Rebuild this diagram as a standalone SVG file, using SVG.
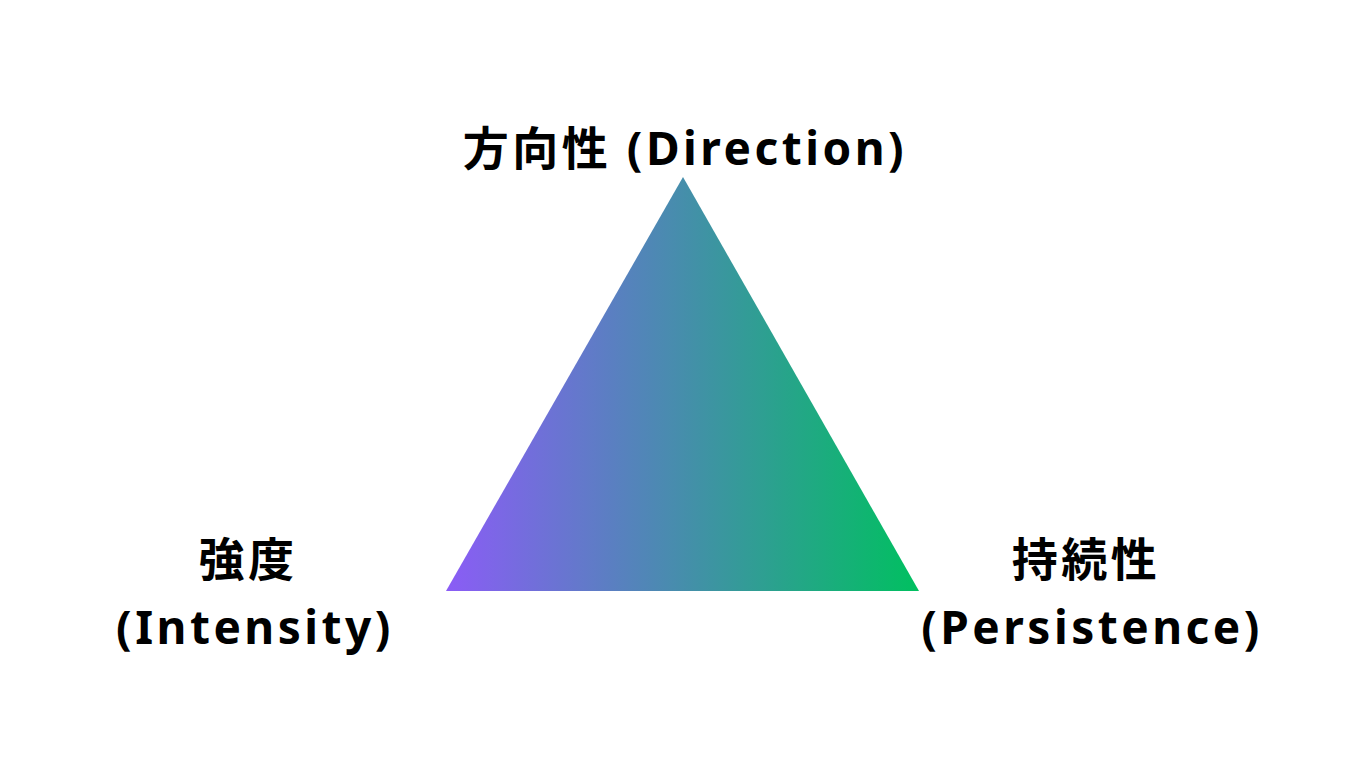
<svg xmlns="http://www.w3.org/2000/svg" width="1366" height="768" viewBox="0 0 1366 768">
<style>
.lbl{font-family:"Noto Sans","Noto Sans CJK JP",sans-serif;font-weight:700;font-size:46px;letter-spacing:3.5px;fill:#000;text-anchor:middle}
</style>
<defs>
<linearGradient id="g" x1="446" y1="0" x2="919" y2="0" gradientUnits="userSpaceOnUse">
<stop offset="0" stop-color="#8b5cf6"/>
<stop offset="1" stop-color="#00c060"/>
</linearGradient>
</defs>
<rect width="1366" height="768" fill="#fff"/>
<g id="triangle"><polygon points="683,177 446,591 919,591" fill="url(#g)"/></g>
<g id="direction"><text class="lbl" x="685" y="165">方向性 (Direction)</text></g>
<g id="intensity"><text class="lbl" x="248" y="576">強度</text><text class="lbl" x="255" y="644">(Intensity)</text></g>
<g id="persistence"><text class="lbl" x="1086" y="576">持続性</text><text class="lbl" x="1092" y="644">(Persistence)</text></g>
<g id="connectors"></g>
</svg>
